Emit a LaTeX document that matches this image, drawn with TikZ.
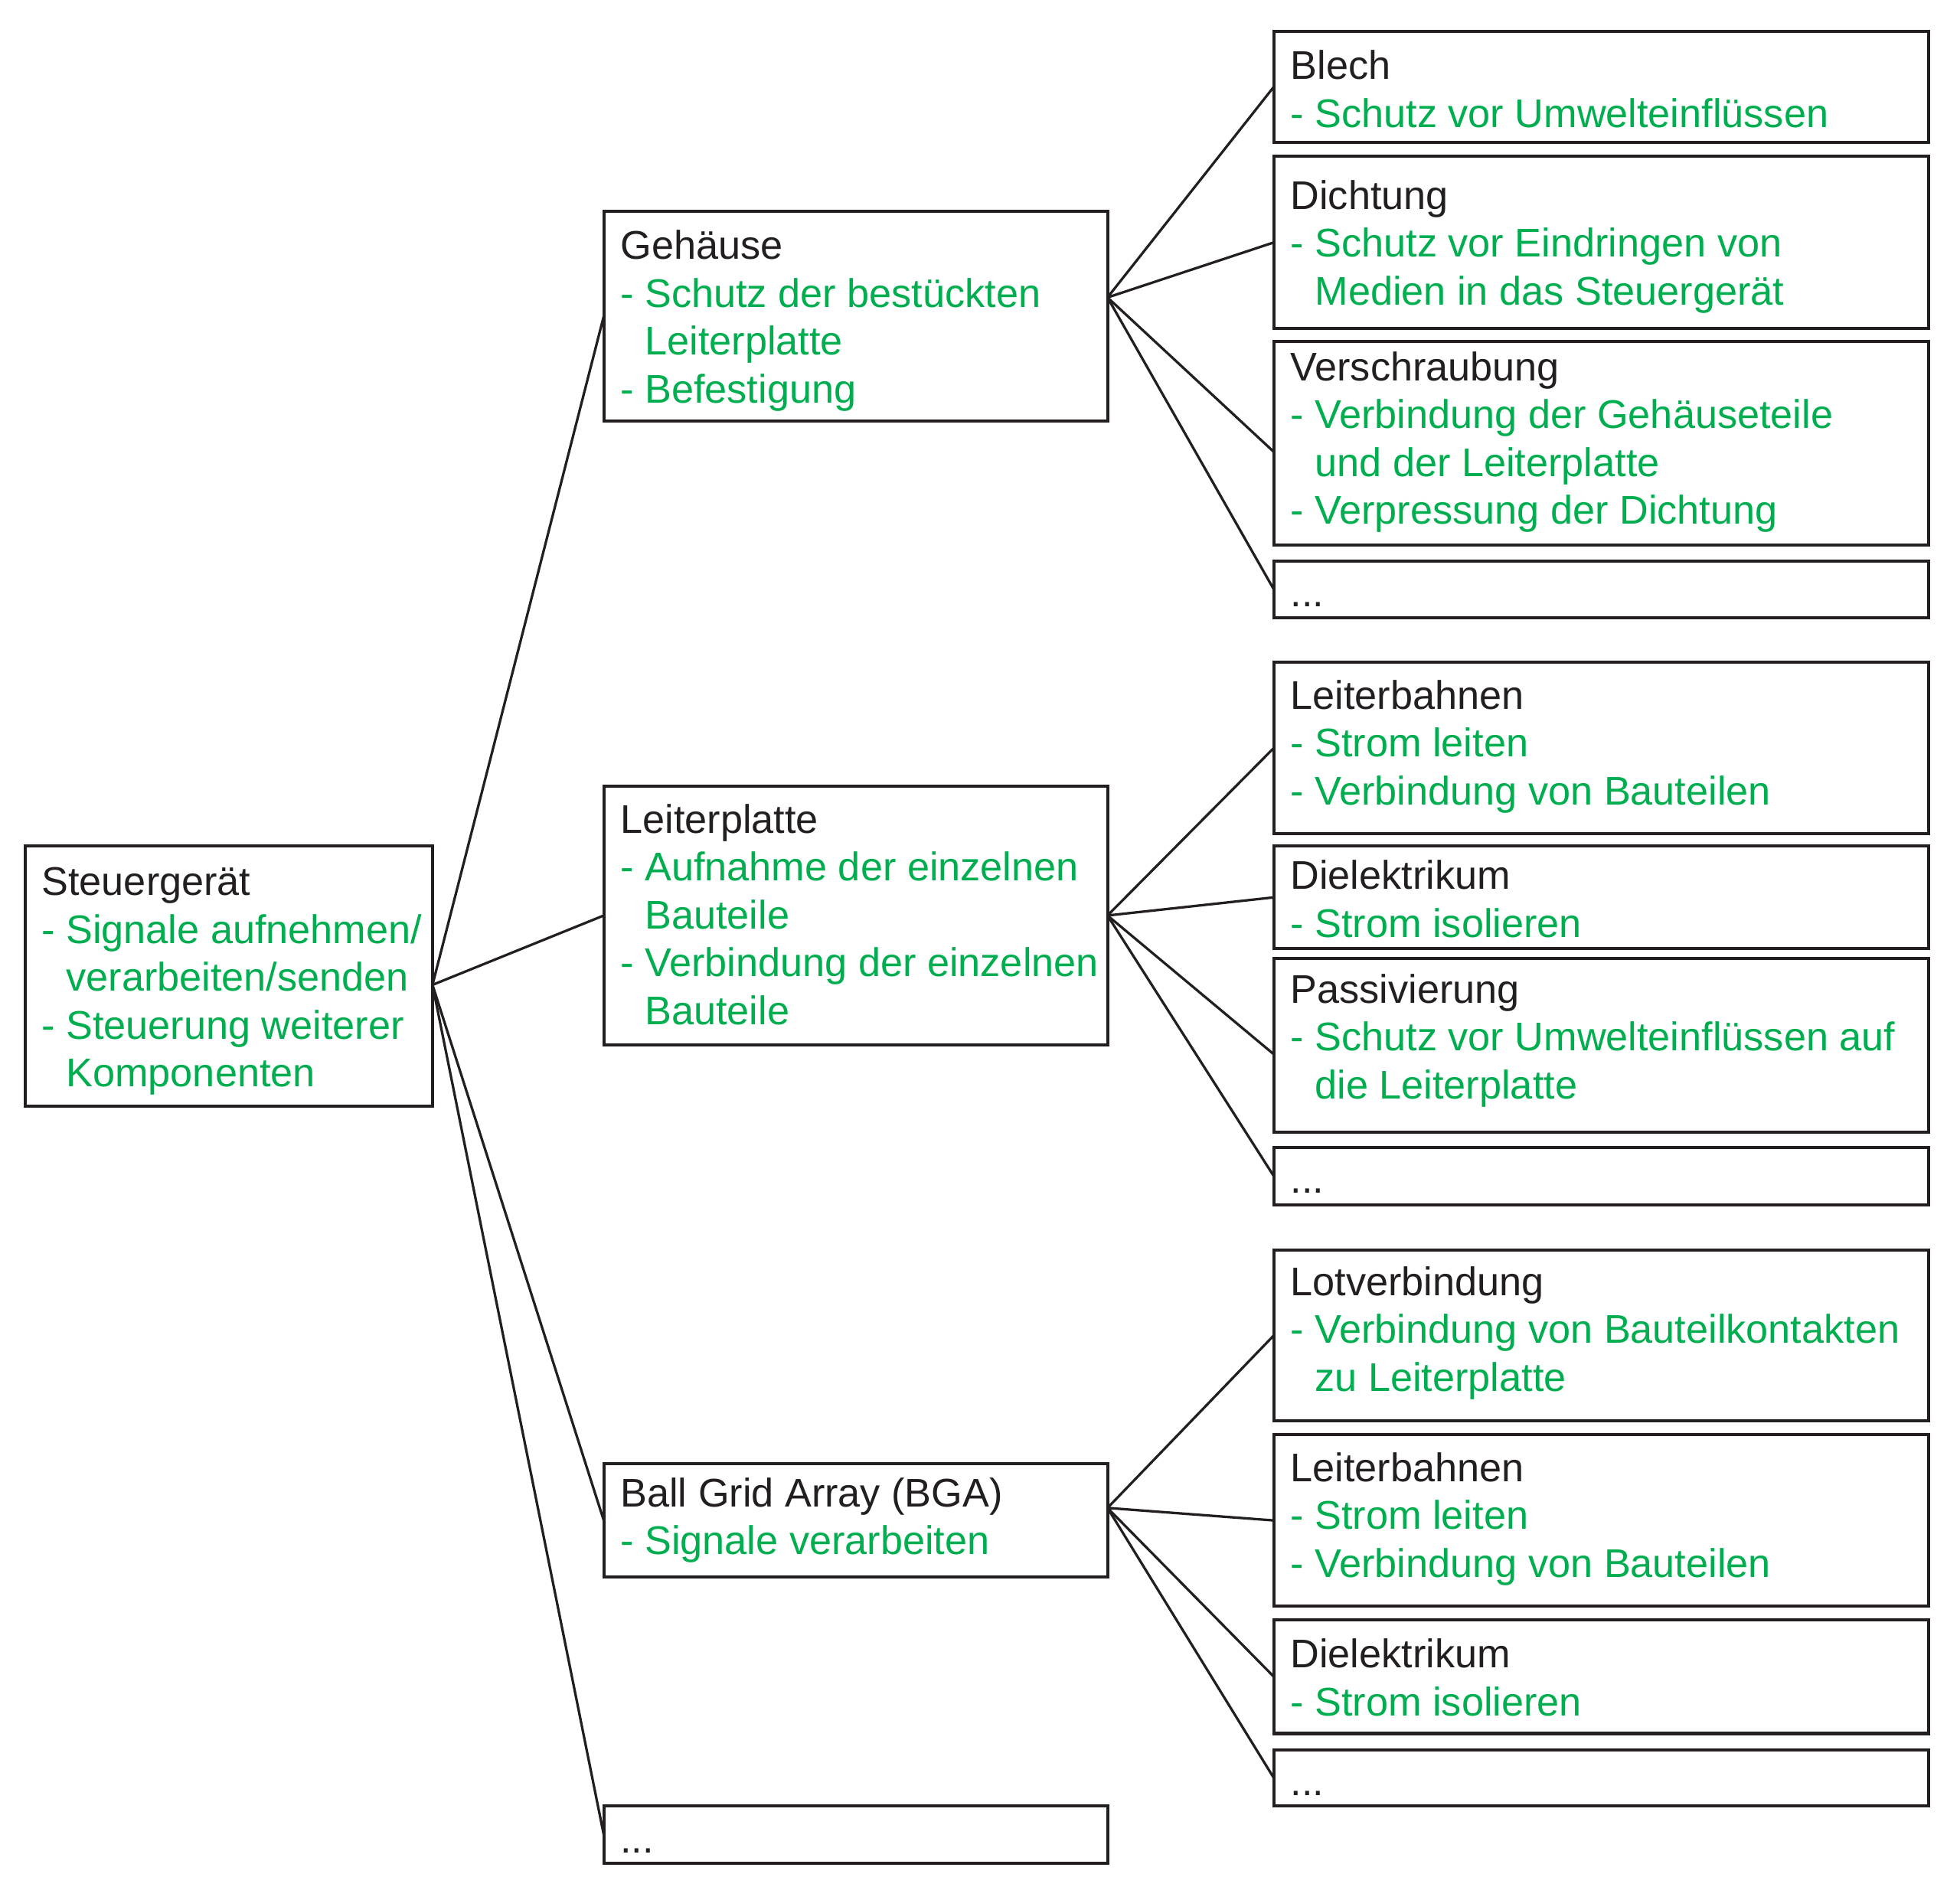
\documentclass[tikz,border=0pt]{standalone}
\usepackage{fontspec}
\setmainfont{Liberation Sans}
\usetikzlibrary{fit}
\definecolor{ink}{RGB}{35,31,32}
\definecolor{grn}{RGB}{0,173,79}
\newcommand\mygr[1]{\textcolor{grn}{#1}}
\newcommand\myind{\hphantom{-\ }}
\begin{document}
\begin{tikzpicture}[x=0.5pt,y=-0.5pt,
  box/.style={draw=ink, line width=1.25pt, inner sep=0pt, outer sep=0pt, rectangle},
  conn/.style={draw=ink, line width=1.0pt},
  lbl/.style={anchor=north west, inner sep=0pt, align=left, text=ink,
    font=\fontsize{16pt}{19.15pt}\selectfont}]
\useasboundingbox (0,0) rectangle (1568,1509.8);

% column 1
\node[box, fit={(20,677) (346,885)}] (st) {};
% column 2
\node[box, fit={(483,169) (886,337)}] (geh) {};
\node[box, fit={(483,629) (886,836)}] (lp) {};
\node[box, fit={(483,1171) (886,1262)}] (bga) {};
\node[box, fit={(483,1445) (886,1491)}] (d2) {};
% column 3 (Gehaeuse)
\node[box, fit={(1019,25) (1543,114)}] (blech) {};
\node[box, fit={(1019,125) (1543,263)}] (dicht) {};
\node[box, fit={(1019,273) (1543,436)}] (vs) {};
\node[box, fit={(1019,449) (1543,494)}] (d3a) {};
% column 3 (Leiterplatte)
\node[box, fit={(1019,530) (1543,667)}] (lb1) {};
\node[box, fit={(1019,677) (1543,759)}] (die1) {};
\node[box, fit={(1019,767) (1543,906)}] (pas) {};
\node[box, fit={(1019,918) (1543,964)}] (d3b) {};
% column 3 (BGA)
\node[box, fit={(1019,1000) (1543,1137)}] (lot) {};
\node[box, fit={(1019,1148) (1543,1285)}] (lb2) {};
\node[box, fit={(1019,1296) (1543,1387)}] (die2) {};
\node[box, fit={(1019,1400) (1543,1445)}] (d3c) {};

% texts
\node[lbl] (stT) at ([shift={(6.5pt,-6.1pt)}]st.north west)
  {\strut Steuergerät\\\mygr{- Signale aufnehmen/}\\\mygr{\myind verarbeiten/senden}\\\mygr{- Steuerung weiterer}\\\mygr{\myind Komponenten}};
\node[lbl] (gehT) at ([shift={(6.5pt,-5.6pt)}]geh.north west)
  {\strut Gehäuse\\\mygr{- Schutz der bestückten}\\\mygr{\myind Leiterplatte}\\\mygr{- Befestigung}};
\node[lbl] (lpT) at ([shift={(6.5pt,-5.1pt)}]lp.north west)
  {\strut Leiterplatte\\\mygr{- Aufnahme der einzelnen}\\\mygr{\myind Bauteile}\\\mygr{- Verbindung der einzelnen}\\\mygr{\myind Bauteile}};
\node[lbl] (bgaT) at ([shift={(6.5pt,-3.6pt)}]bga.north west)
  {\strut Ball Grid Array (BGA)\\\mygr{- Signale verarbeiten}};
\node[lbl] (d2T) at ([shift={(6.5pt,-5.1pt)}]d2.north west) {\strut ...};

\node[lbl] (blechT) at ([shift={(6.5pt,-5.6pt)}]blech.north west)
  {\strut Blech\\\mygr{- Schutz vor Umwelteinflüssen}};
\node[lbl] (dichtT) at ([shift={(6.5pt,-7.6pt)}]dicht.north west)
  {\strut Dichtung\\\mygr{- Schutz vor Eindringen von}\\\mygr{\myind Medien in das Steuergerät}};
\node[lbl] (vsT) at ([shift={(6.5pt,-2.1pt)}]vs.north west)
  {\strut Verschraubung\\\mygr{- Verbindung der Gehäuseteile}\\\mygr{\myind und der Leiterplatte}\\\mygr{- Verpressung der Dichtung}};
\node[lbl] (d3aT) at ([shift={(6.5pt,-4.6pt)}]d3a.north west) {\strut ...};

\node[lbl] (lb1T) at ([shift={(6.5pt,-5.1pt)}]lb1.north west)
  {\strut Leiterbahnen\\\mygr{- Strom leiten}\\\mygr{- Verbindung von Bauteilen}};
\node[lbl] (die1T) at ([shift={(6.5pt,-3.6pt)}]die1.north west)
  {\strut Dielektrikum\\\mygr{- Strom isolieren}};
\node[lbl] (pasT) at ([shift={(6.5pt,-4.1pt)}]pas.north west)
  {\strut Passivierung\\\mygr{- Schutz vor Umwelteinflüssen auf}\\\mygr{\myind die Leiterplatte}};
\node[lbl] (d3bT) at ([shift={(6.5pt,-4.6pt)}]d3b.north west) {\strut ...};

\node[lbl] (lotT) at ([shift={(6.5pt,-4.6pt)}]lot.north west)
  {\strut Lotverbindung\\\mygr{- Verbindung von Bauteilkontakten}\\\mygr{\myind zu Leiterplatte}};
\node[lbl] (lb2T) at ([shift={(6.5pt,-5.1pt)}]lb2.north west)
  {\strut Leiterbahnen\\\mygr{- Strom leiten}\\\mygr{- Verbindung von Bauteilen}};
\node[lbl] (die2T) at ([shift={(6.5pt,-5.6pt)}]die2.north west)
  {\strut Dielektrikum\\\mygr{- Strom isolieren}};
\node[lbl] (d3cT) at ([shift={(6.5pt,-4.6pt)}]d3c.north west) {\strut ...};

% connector start points
\coordinate (stR) at ([yshift=-3.5pt]st.east);
\coordinate (gehR) at ([yshift=7.5pt]geh.east);
\coordinate (bgaR) at ([yshift=5pt]bga.east);
\coordinate (vsL) at ([yshift=-3.5pt]vs.west);
\coordinate (pasL) at ([yshift=-3.5pt]pas.west);

% connectors
\draw[conn] (stR) -- (geh.west);
\draw[conn] (stR) -- (lp.west);
\draw[conn] (stR) -- (bga.west);
\draw[conn] (stR) -- (d2.west);

\draw[conn] (gehR) -- (blech.west);
\draw[conn] (gehR) -- (dicht.west);
\draw[conn] (gehR) -- (vsL);
\draw[conn] (gehR) -- (d3a.west);

\draw[conn] (lp.east) -- (lb1.west);
\draw[conn] (lp.east) -- (die1.west);
\draw[conn] (lp.east) -- (pasL);
\draw[conn] (lp.east) -- (d3b.west);

\draw[conn] (bgaR) -- (lot.west);
\draw[conn] (bgaR) -- (lb2.west);
\draw[conn] (bgaR) -- (die2.west);
\draw[conn] (bgaR) -- (d3c.west);
\end{tikzpicture}
\end{document}
